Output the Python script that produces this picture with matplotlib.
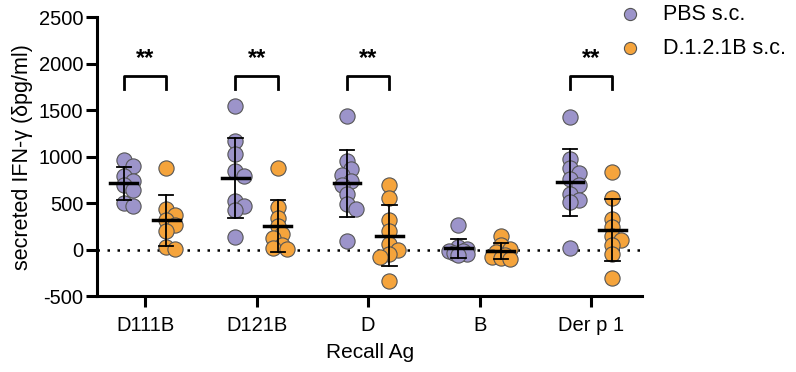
import numpy as np
import matplotlib
matplotlib.use('Agg')
import matplotlib.pyplot as plt

plt.rcParams['font.family'] = ['Liberation Sans', 'DejaVu Sans']
plt.rcParams['axes.unicode_minus'] = False

# data (delta pg/ml)
antigens = ['D111B', 'D121B', 'D', 'B', 'Der p 1']
pbs = [
    [960, 900, 790, 740, 700, 640, 500, 470],
    [1540, 1170, 1030, 850, 790, 520, 470, 430, 140],
    [1440, 950, 870, 800, 740, 700, 600, 490, 440, 90],
    [260, 30, 10, -10, -20, -40, -50, -60],
    [1430, 970, 880, 820, 760, 700, 600, 530, 510, 20],
]
d1221b = [
    [878, 440, 370, 320, 260, 200, 30, 10],
    [880, 460, 340, 250, 170, 120, 50, 20, 10],
    [700, 550, 320, 200, 60, 0, -50, -80, -340],
    [150, 50, 10, -30, -60, -80, -90, -100],
    [830, 560, 330, 240, 150, 100, 50, -50, -300],
]
sig_groups = [0, 1, 2, 4]
series_names = ['PBS s.c.', 'D.1.2.1B s.c.']
colors = ['#9C94CA', '#F5A43C']

X_PX = 111.5   # px per category
Y_PX = 0.093   # px per unit
DIAM = 15.0


def swarm(vals):
    # small sideways nudge for overlapping points (offsets in data units)
    order = np.argsort(vals)[::-1]
    placed = []
    offs = np.zeros(len(vals))
    steps = [0, 1, -1, 2, -2]
    for i in order:
        y = vals[i] * Y_PX
        best, best_d = 0, -1
        for s in steps:
            x = s * 0.3 * DIAM
            d = min([np.hypot(x - px, y - py) for px, py in placed] or [99])
            if d >= 0.55 * DIAM:
                best = x
                break
            if d > best_d:
                best, best_d = x, d
        placed.append((best, y))
        offs[i] = best / X_PX
    return offs


fig = plt.figure(figsize=(7.96, 3.72), dpi=100)
ax = fig.add_axes([0.122, 0.204, 0.685, 0.75])

dx = 0.19
for gi, (series, name, col, sgn) in enumerate(zip([pbs, d1221b], series_names, colors, [-1, 1])):
    for i, vals in enumerate(series):
        vals = np.array(vals, dtype=float)
        xc = i + sgn * dx
        xs = xc + swarm(vals)
        ax.scatter(xs, vals, s=120, color=col, edgecolors='#555555', linewidths=0.8, zorder=3,
                   label=name if i == 0 else None)
        m, sd = vals.mean(), vals.std(ddof=1)
        ax.plot([xc - 0.12, xc + 0.12], [m, m], color='black', lw=2.5, zorder=4)
        ax.plot([xc, xc], [m - sd, m + sd], color='black', lw=1.3, zorder=4)
        for yy in (m - sd, m + sd):
            ax.plot([xc - 0.065, xc + 0.065], [yy, yy], color='black', lw=1.3, zorder=4)

ax.axhline(0, color='black', ls=(0, (1, 3)), lw=1.8, zorder=1)

# significance brackets
for i in sig_groups:
    ax.plot([i - dx, i - dx, i + dx, i + dx], [1730, 1870, 1870, 1730], color='black', lw=2)
    ax.text(i, 1930, '**', ha='center', va='bottom', fontsize=17, fontweight='bold')

ax.set_xlim(-0.43, 4.46)
ax.set_ylim(-500, 2500)
ax.set_yticks(np.arange(-500, 2501, 500))
ax.set_xticks(range(len(antigens)))
ax.set_xticklabels(antigens)
ax.tick_params(labelsize=14.5, width=2.2, length=8, color='black')
ax.tick_params(axis='x', pad=6)
ax.tick_params(axis='y', pad=2)
for s in ('top', 'right'):
    ax.spines[s].set_visible(False)
for s in ('left', 'bottom'):
    ax.spines[s].set_linewidth(2.2)

ax.set_xlabel('Recall Ag', fontsize=15, labelpad=6)
ax.set_ylabel('secreted IFN-γ (δpg/ml)', fontsize=15.5, labelpad=4)

fig.legend(loc='upper left', bbox_to_anchor=(0.778, 0.99), frameon=False, fontsize=15.5,
           borderpad=0, borderaxespad=0, handlelength=1.0, handletextpad=1.05,
           labelspacing=0.62, markerscale=0.8)

fig.savefig('out.png', dpi=100)
